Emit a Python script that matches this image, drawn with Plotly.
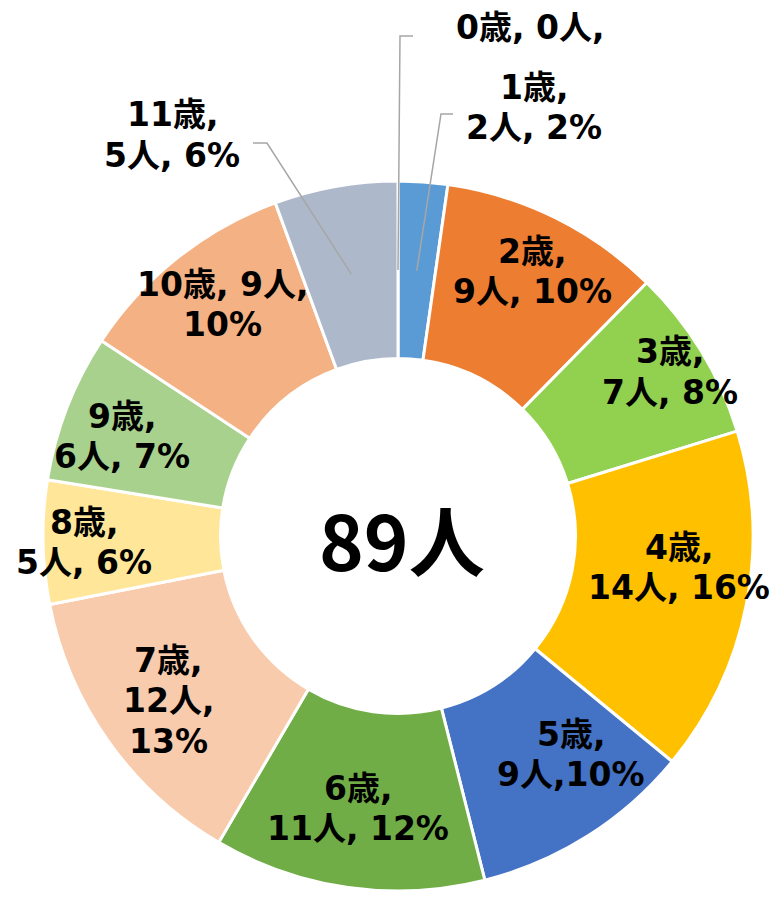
import math
import plotly.graph_objects as go

# ---- data ----
ages = ["0歳", "1歳", "2歳", "3歳", "4歳", "5歳", "6歳", "7歳", "8歳", "9歳", "10歳", "11歳"]
counts = [0, 2, 9, 7, 14, 9, 11, 12, 5, 6, 9, 5]
label_texts = [
    "0歳, 0人,",
    "1歳,<br>2人, 2%",
    "2歳,<br>9人, 10%",
    "3歳,<br>7人, 8%",
    "4歳,<br>14人, 16%",
    "5歳,<br>9人,10%",
    "6歳,<br>11人, 12%",
    "7歳,<br>12人,<br>13%",
    "8歳,<br>5人, 6%",
    "9歳,<br>6人, 7%",
    "10歳, 9人,<br>10%",
    "11歳,<br>5人, 6%",
]
center_text = "89人"

# ---- styles / layout ----
colors = ["#A5A5A5", "#5B9BD5", "#ED7D31", "#92D050", "#FFC000", "#4472C4",
          "#70AD47", "#F8CBAD", "#FFE699", "#A9D18E", "#F4B183", "#ADB9CA"]
W, H = 783, 897
OFF = 8  # page body margin
CX, CY, R = 398, 536, 355
HOLE = 0.5
# label positions in pixels: (centre x, centre y of first line)
label_pos = [(530, 28), (534, 87), (532, 251), (670, 352), (679, 547), (571, 734),
             (358, 788), (168, 660), (84, 522), (122, 416), (222, 284), (172, 115)]
LINE_H = 40.5
# leader lines: (elbow x, elbow y, end x) for slices that have callouts
leaders = {0: (400, 36, 413), 1: (441, 114, 453), 11: (267, 143, 253)}
LEADER_R = 266

LABEL_FONT = "DejaVu Sans, Noto Sans CJK JP, sans-serif"
CENTER_FONT = "Noto Sans CJK JP, DejaVu Sans, sans-serif"
FW, FH = W - OFF, H - OFF

def px(x):
    return (x - OFF) / FW

def py(y):
    return 1 - (y - OFF) / FH

fig = go.Figure(go.Pie(
    labels=ages,
    values=counts,
    hole=HOLE,
    sort=False,
    direction="clockwise",
    rotation=0,
    textinfo="none",
    hoverinfo="label+value+percent",
    marker=dict(colors=colors, line=dict(color="white", width=3)),
    showlegend=False,
    domain=dict(x=[px(CX - R), px(CX + R)], y=[py(CY + R), py(CY - R)]),
))

annotations = []
for txt, (lx, ly) in zip(label_texts, label_pos):
    for k, line in enumerate(txt.split("<br>")):
        annotations.append(dict(
            x=px(lx), y=py(ly + k * LINE_H), xref="paper", yref="paper", text=line,
            showarrow=False, xanchor="center", yanchor="middle", align="center",
            font=dict(family=LABEL_FONT, size=33, color="#000000", weight="bold"),
        ))
annotations.append(dict(
    x=px(CX + 4), y=py(CY + 2), xref="paper", yref="paper", text=center_text,
    showarrow=False, xanchor="center", yanchor="middle",
    font=dict(family=CENTER_FONT, size=76, color="#000000", weight="bold"),
))

total = sum(counts)
shapes = []
cum = 0
mids = []
for c in counts:
    mids.append((cum + c / 2) / total * 2 * math.pi)
    cum += c
for i, (ex, ey, endx) in leaders.items():
    a = mids[i]
    sx = CX + LEADER_R * math.sin(a)
    sy = CY - LEADER_R * math.cos(a)
    path = f"M {px(sx)} {py(sy)} L {px(ex)} {py(ey)} L {px(endx)} {py(ey)}"
    shapes.append(dict(type="path", path=path, xref="paper", yref="paper",
                       line=dict(color="#A6A6A6", width=1.5)))

fig.update_layout(
    width=FW, height=FH,
    margin=dict(l=0, r=0, t=0, b=0),
    paper_bgcolor="white", plot_bgcolor="white",
    annotations=annotations,
    shapes=shapes,
)

fig.write_html("out.html")
